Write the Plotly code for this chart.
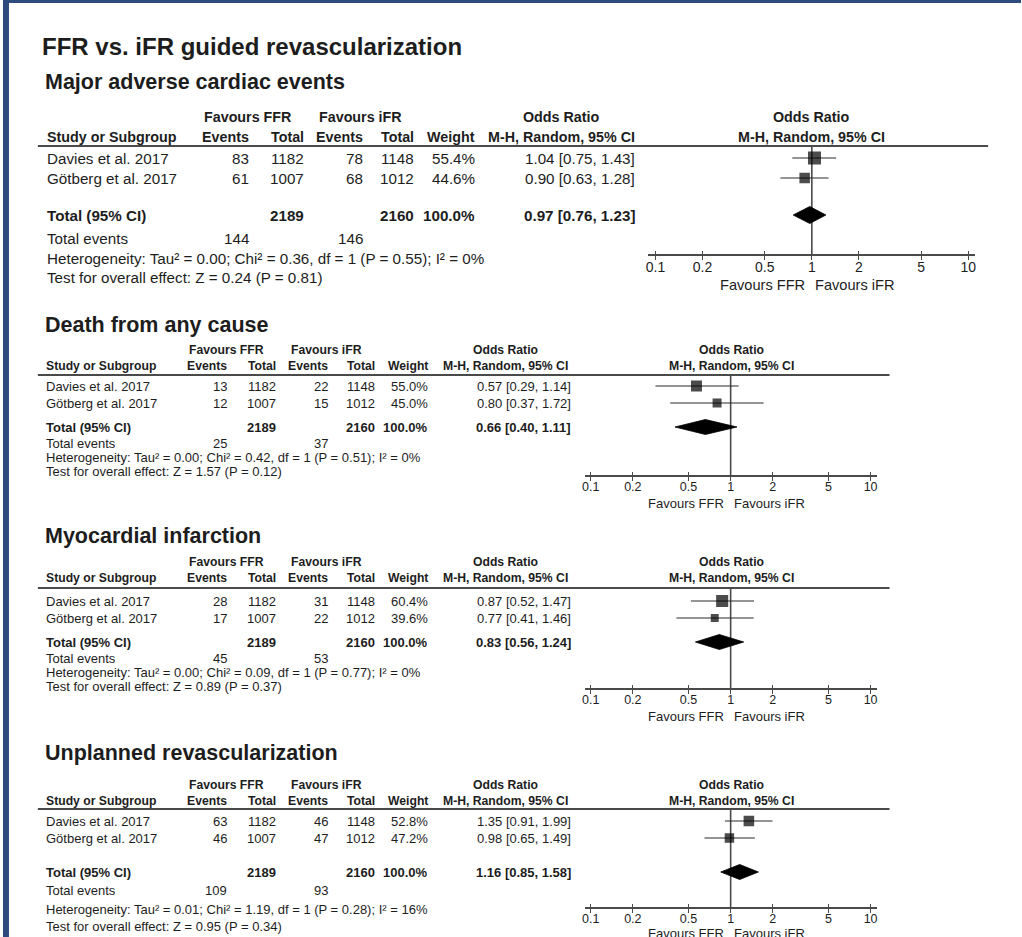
import math
import plotly.graph_objects as go

W, H = 1022, 937

# ---------------- data ----------------
main_title = "FFR vs. iFR guided revascularization"
outcomes = ["Major adverse cardiac events", "Death from any cause",
            "Myocardial infarction", "Unplanned revascularization"]
studies = ["Davies et al. 2017", "Götberg et al. 2017"]
ffr_events = [[83, 61], [13, 12], [28, 17], [63, 46]]
ifr_events = [[78, 68], [22, 15], [31, 22], [46, 47]]
ffr_total = [1182, 1007]
ifr_total = [1148, 1012]
weights = [[55.4, 44.6], [55.0, 45.0], [60.4, 39.6], [52.8, 47.2]]
or_est = [[1.04, 0.90], [0.57, 0.80], [0.87, 0.77], [1.35, 0.98]]
or_lo = [[0.75, 0.63], [0.29, 0.37], [0.52, 0.41], [0.91, 0.65]]
or_hi = [[1.43, 1.28], [1.14, 1.72], [1.47, 1.46], [1.99, 1.49]]
pooled_est = [0.97, 0.66, 0.83, 1.16]
pooled_lo = [0.76, 0.40, 0.56, 0.85]
pooled_hi = [1.23, 1.11, 1.24, 1.58]
tau2 = [0.00, 0.00, 0.00, 0.01]
chi2 = [0.36, 0.42, 0.09, 1.19]
dfree = [1, 1, 1, 1]
p_het = [0.55, 0.51, 0.77, 0.28]
i2 = [0, 0, 0, 16]
z_val = [0.24, 1.57, 0.89, 0.95]
p_z = [0.81, 0.12, 0.37, 0.34]
tick_vals = [0.1, 0.2, 0.5, 1, 2, 5, 10]
tick_text = ["0.1", "0.2", "0.5", "1", "2", "5", "10"]

# ---------------- layout (pixel positions) ----------------
big_cols = dict(study=43, fav1=246, fav2=359, ev1=248, tt1=303, ev2=362, tt2=414,
                wt=475, ci=635, orh=561, frh=812, l0=35, l1=989, f01=655, f10=969, ext=7)
small_cols = dict(study=42, fav1=224, fav2=325, ev1=226, tt1=275, ev2=327, tt2=374,
                  wt=428, ci=571, orh=504, frh=731, l0=35, l1=890, f01=590, f10=871, ext=6)
panels = [
    dict(T=82, h1=117, h2=137, line=146, s=[158, 178], tot=215, tev=238, het=258, test=277,
         axis=255, fav=285, cols=big_cols, hdr=14.3, txt=15.2, tick=14, favs=14.6, sq=0.235, dh=8.5),
    dict(T=325, h1=350, h2=366, line=375, s=[386, 403], tot=427, tev=443, het=457, test=471,
         axis=476, fav=503, cols=small_cols, hdr=12.2, txt=13, tick=12.5, favs=13, sq=0.2, dh=7.5),
    dict(T=536, h1=562, h2=578, line=588, s=[601, 618], tot=642, tev=658, het=672, test=686,
         axis=689, fav=716, cols=small_cols, hdr=12.2, txt=13, tick=12.5, favs=13, sq=0.2, dh=7.5),
    dict(T=753, h1=785, h2=801, line=809, s=[821, 838], tot=872, tev=890, het=909, test=926,
         axis=908, fav=933, cols=small_cols, hdr=12.2, txt=13, tick=12.5, favs=13, sq=0.2, dh=7.5),
]

TXT = "#1d1d1d"
LINE = "#4a4a4a"
FONT = "Liberation Sans, Arial, sans-serif"

fig = go.Figure()
annotations = []
shapes = []


def txt(x, y, s, size, bold=False, anchor="left", color=TXT):
    annotations.append(dict(
        x=x, y=y, xref="x", yref="y", text=s, showarrow=False,
        xanchor=anchor, yanchor="middle", borderpad=0,
        font=dict(family=FONT, size=size, color=color,
                  weight="bold" if bold else "normal")))


# border (dark blue frame on top and left)
shapes.append(dict(type="rect", xref="paper", yref="paper", x0=0, x1=6 / W, y0=0, y1=1,
                   fillcolor="#2d4b7c", line=dict(width=0), layer="above"))
shapes.append(dict(type="rect", xref="paper", yref="paper", x0=0, x1=1, y0=1 - 3 / H, y1=1,
                   fillcolor="#2d4b7c", line=dict(width=0), layer="above"))

txt(38, 46, main_title, 24, bold=True)

layout_axes = {}
for k, p in enumerate(panels):
    c = p["cols"]
    hs, ts = p["hdr"], p["txt"]
    # subtitle
    txt(41, p["T"], outcomes[k], 21.5, bold=True)
    # headers
    txt(c["fav1"], p["h1"], "Favours FFR", hs, True, "center")
    txt(c["fav2"], p["h1"], "Favours iFR", hs, True, "center")
    txt(c["orh"], p["h1"], "Odds Ratio", hs, True, "center")
    txt(c["frh"], p["h1"], "Odds Ratio", hs, True, "center")
    txt(c["study"], p["h2"], "Study or Subgroup", hs, True, "left")
    txt(c["ev1"], p["h2"], "Events", hs, True, "right")
    txt(c["tt1"], p["h2"], "Total", hs, True, "right")
    txt(c["ev2"], p["h2"], "Events", hs, True, "right")
    txt(c["tt2"], p["h2"], "Total", hs, True, "right")
    txt(c["wt"], p["h2"], "Weight", hs, True, "right")
    txt(c["orh"], p["h2"], "M-H, Random, 95% CI", hs, True, "center")
    txt(c["frh"], p["h2"], "M-H, Random, 95% CI", hs, True, "center")
    shapes.append(dict(type="line", xref="x", yref="y", x0=c["l0"], x1=c["l1"],
                       y0=p["line"], y1=p["line"], line=dict(color=LINE, width=2)))
    # study rows
    for i, st in enumerate(studies):
        y = p["s"][i]
        txt(c["study"], y, st, ts)
        txt(c["ev1"], y, str(ffr_events[k][i]), ts, anchor="right")
        txt(c["tt1"], y, str(ffr_total[i]), ts, anchor="right")
        txt(c["ev2"], y, str(ifr_events[k][i]), ts, anchor="right")
        txt(c["tt2"], y, str(ifr_total[i]), ts, anchor="right")
        txt(c["wt"], y, f"{weights[k][i]:.1f}%", ts, anchor="right")
        txt(c["ci"], y, f"{or_est[k][i]:.2f} [{or_lo[k][i]:.2f}, {or_hi[k][i]:.2f}]", ts, anchor="right")
    # total row
    y = p["tot"]
    txt(c["study"], y, "Total (95% CI)", ts, True)
    txt(c["tt1"], y, str(sum(ffr_total)), ts, True, "right")
    txt(c["tt2"], y, str(sum(ifr_total)), ts, True, "right")
    txt(c["wt"], y, f"{sum(weights[k]):.1f}%", ts, True, "right")
    txt(c["ci"], y, f"{pooled_est[k]:.2f} [{pooled_lo[k]:.2f}, {pooled_hi[k]:.2f}]", ts, True, "right")
    txt(c["study"], p["tev"], "Total events", ts)
    txt(c["ev1"], p["tev"], str(sum(ffr_events[k])), ts, anchor="right")
    txt(c["ev2"], p["tev"], str(sum(ifr_events[k])), ts, anchor="right")
    txt(c["study"], p["het"],
        f"Heterogeneity: Tau² = {tau2[k]:.2f}; Chi² = {chi2[k]:.2f}, df = {dfree[k]} "
        f"(P = {p_het[k]:.2f}); I² = {i2[k]}%", ts)
    txt(c["study"], p["test"], f"Test for overall effect: Z = {z_val[k]:.2f} (P = {p_z[k]:.2f})", ts)

    # forest axis
    ax_id = k + 2
    ov_id = k + 6
    dec = (c["f10"] - c["f01"]) / 2.0
    pad = c["ext"] / dec
    x0 = c["f01"] - c["ext"]
    x1 = c["f10"] + c["ext"]
    rng = [-1 - pad, 1 + pad]
    pos = 1 - p["axis"] / H
    common = dict(type="log", range=rng, domain=[x0 / W, x1 / W], anchor="free",
                  position=pos, showgrid=False, zeroline=False, fixedrange=True,
                  tickmode="array", tickvals=tick_vals)
    layout_axes[f"xaxis{ax_id}"] = dict(
        **common, ticktext=tick_text, showline=True, linecolor=LINE, linewidth=1.6,
        ticks="outside", ticklen=4, tickwidth=1.4, tickcolor=LINE, ticklabelstandoff=-5,
        tickfont=dict(family=FONT, size=p["tick"], color=TXT))
    layout_axes[f"xaxis{ov_id}"] = dict(
        **common, overlaying=f"x{ax_id}", showline=False, showticklabels=False,
        ticks="inside", ticklen=4, tickwidth=1.4, tickcolor=LINE)
    xa = f"x{ax_id}"
    # invisible trace so the overlay axis is drawn
    fig.add_trace(go.Scatter(x=[1], y=[p["axis"]], xaxis=f"x{ov_id}", yaxis="y", mode="markers",
                             marker=dict(opacity=0), hoverinfo="skip", showlegend=False))
    # vertical line of no effect
    fig.add_trace(go.Scatter(x=[1, 1], y=[p["line"], p["axis"]], xaxis=xa, yaxis="y", mode="lines",
                             line=dict(color=LINE, width=1.6), hoverinfo="skip", showlegend=False))
    # CI whiskers
    xs, ys = [], []
    for i in range(len(studies)):
        xs += [or_lo[k][i], or_hi[k][i], None]
        ys += [p["s"][i], p["s"][i], None]
    fig.add_trace(go.Scatter(x=xs, y=ys, xaxis=xa, yaxis="y", mode="lines",
                             line=dict(color="#2a2a2a", width=1.2), hoverinfo="skip", showlegend=False))
    # squares
    fig.add_trace(go.Scatter(x=or_est[k], y=p["s"], xaxis=xa, yaxis="y", mode="markers",
                             marker=dict(symbol="square", color="#000000",
                                         size=[w * p["sq"] for w in weights[k]], line=dict(width=0)),
                             hoverinfo="skip", showlegend=False))
    # diamond
    yt, dh = p["tot"], p["dh"]
    fig.add_trace(go.Scatter(x=[pooled_lo[k], pooled_est[k], pooled_hi[k], pooled_est[k], pooled_lo[k]],
                             y=[yt, yt - dh, yt, yt + dh, yt], xaxis=xa, yaxis="y", mode="lines",
                             fill="toself", fillcolor="#000000", line=dict(color="#000000", width=0.8),
                             hoverinfo="skip", showlegend=False))
    # favours labels
    one_px = c["f01"] + dec  # pixel of OR = 1 (for label placement)
    txt(one_px - 6, p["fav"], "Favours FFR", p["favs"], anchor="right")
    txt(one_px + 2, p["fav"], "Favours iFR", p["favs"], anchor="left")

fig.update_layout(
    width=W, height=H, margin=dict(l=0, r=0, t=0, b=0),
    paper_bgcolor="white", plot_bgcolor="rgba(0,0,0,0)", showlegend=False,
    xaxis=dict(range=[0, W], domain=[0, 1], visible=False, fixedrange=True),
    yaxis=dict(range=[H, 0], domain=[0, 1], visible=False, fixedrange=True),
    annotations=annotations, shapes=shapes, **layout_axes)

fig.write_html("out.html", config={"displayModeBar": False},
               post_script="document.body.style.margin='0';")
